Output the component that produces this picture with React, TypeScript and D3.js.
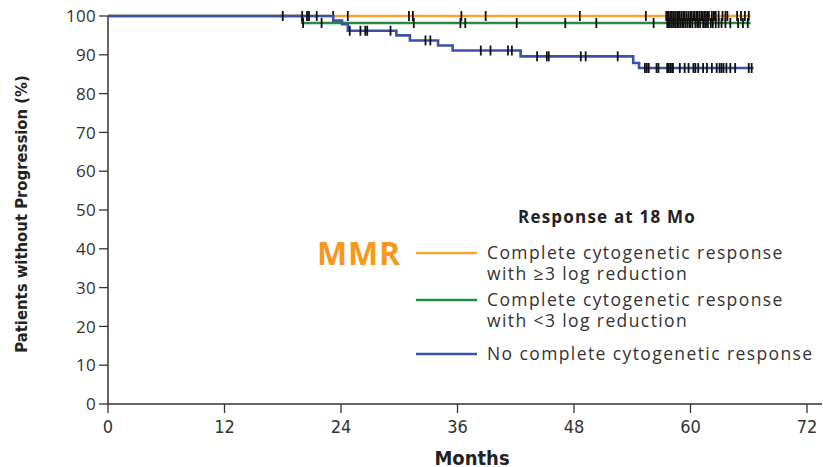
import React from "react";
import * as d3 from "d3";

// Kaplan–Meier step points: [month, % without progression]
const orangeSteps: [number, number][] = [[0, 100], [66.2, 100]];
const greenSteps: [number, number][] = [[0, 100], [20.0, 98.2], [66.2, 98.2]];
const blueSteps: [number, number][] = [
  [0, 100], [23.2, 98.8], [24.1, 97.9], [24.7, 96.2], [29.7, 95.0], [31.1, 93.7],
  [34.0, 92.4], [35.5, 91.1], [42.5, 89.6], [54.1, 87.9], [54.7, 86.6], [66.5, 86.6],
];

// Censoring times (months)
const orangeCensor = [
  23.2, 24.7, 31.0, 31.4, 36.4, 38.9, 48.6, 55.4,
  57.5, 57.6, 57.7, 57.9, 58.0, 58.2, 58.3, 58.5, 58.7, 58.8, 58.9, 59.1, 59.3, 59.4,
  59.6, 59.8, 60.0, 60.1, 60.3, 60.4, 60.6, 60.7, 60.9, 61.1, 61.2, 61.4, 61.5, 61.7,
  61.8, 61.9, 62.2, 62.4, 62.5, 62.6, 62.9, 63.3, 63.6, 63.8, 64.8, 65.2, 65.6, 66.0,
];
const greenCensor = [
  20.1, 22.0, 31.5, 36.3, 36.8, 42.1, 47.1, 50.3, 56.2,
  57.6, 57.7, 57.8, 58.0, 58.2, 58.3, 58.5, 58.7, 58.8, 59.0, 59.2, 59.3, 59.5, 59.7,
  59.9, 60.0, 60.2, 60.5, 60.7, 60.8, 61.0, 61.3, 61.5, 61.6, 61.8, 62.1, 62.3, 62.6,
  62.9, 63.2, 63.6, 64.1, 64.9, 65.4, 65.9,
];
const blueCensor = [
  18.0, 20.0, 20.5, 20.7, 21.5, 24.9, 26.0, 26.5, 26.7, 29.1, 32.7, 33.2,
  38.4, 39.4, 41.2, 41.6, 44.2, 45.2, 45.4, 48.7, 49.2, 52.5,
  55.3, 55.5, 55.7, 56.5, 56.7, 57.6, 57.7, 57.9, 58.1, 58.2, 58.9, 59.4, 59.8, 60.3,
  60.5, 60.8, 61.3, 61.7, 62.2, 62.7, 63.0, 63.2, 63.4, 63.7, 64.1, 64.6, 66.0, 66.3,
];

const xTicks = [0, 12, 24, 36, 48, 60, 72];
const yTicks = [0, 10, 20, 30, 40, 50, 60, 70, 80, 90, 100];

const legendItems = [
  { lines: ["Complete cytogenetic response", "with \u22653 log reduction"], color: "#F7A531" },
  { lines: ["Complete cytogenetic response", "with <3 log reduction"], color: "#2A8A45" },
  { lines: ["No complete cytogenetic response"], color: "#3B52AA" },
];

const W = 823;
const H = 467;
const x = d3.scaleLinear().domain([0, 72]).range([108, 807]);
const y = d3.scaleLinear().domain([0, 100]).range([404, 16]);

const stepLine = d3
  .line<[number, number]>()
  .x((d) => x(d[0]))
  .y((d) => y(d[1]))
  .curve(d3.curveStepAfter);

function valueAt(steps: [number, number][], t: number) {
  let v = steps[0][1];
  for (const [m, p] of steps) if (m <= t) v = p;
  return v;
}

const condensed = "'Liberation Sans Narrow', 'DejaVu Sans Condensed', 'Open Sans', sans-serif";
const sans = "'Open Sans', Lato, sans-serif";

function Series({ steps, censor, color }: { steps: [number, number][]; censor: number[]; color: string }) {
  return (
    <g>
      <path d={stepLine(steps) ?? ""} fill="none" stroke={color} strokeWidth={2.6} />
      {censor.map((t, i) => {
        const cy = y(valueAt(steps, t));
        return (
          <line key={i} x1={x(t)} x2={x(t)} y1={cy - 5} y2={cy + 5} stroke="#111" strokeWidth={1.8} />
        );
      })}
    </g>
  );
}

export default function App() {
  return (
    <svg width={W} height={H} style={{ position: "absolute", left: 0, top: 0, background: "#fff" }}>
      {/* axes */}
      <line x1={x(0)} x2={x(0)} y1={y(0)} y2={y(100)} stroke="#333" strokeWidth={1.5} />
      <line x1={x(0)} x2={822} y1={y(0)} y2={y(0)} stroke="#333" strokeWidth={1.5} />
      {yTicks.map((v) => (
        <g key={v}>
          <line x1={x(0) - 9} x2={x(0)} y1={y(v)} y2={y(v)} stroke="#333" strokeWidth={1.3} />
          <text x={x(0) - 12} y={y(v)} dy="0.36em" textAnchor="end" fontFamily={sans} fontSize={17} letterSpacing={0.3} fill="#333">
            {v}
          </text>
        </g>
      ))}
      {xTicks.map((v) => (
        <g key={v}>
          <line x1={x(v)} x2={x(v)} y1={y(0)} y2={y(0) + 9} stroke="#333" strokeWidth={1.3} />
          <text x={x(v)} y={y(0) + 29} textAnchor="middle" fontFamily={condensed} fontSize={18} fill="#333">
            {v}
          </text>
        </g>
      ))}
      <text
        transform={`translate(27,${(y(0) + y(100)) / 2 + 4}) rotate(-90)`}
        textAnchor="middle"
        fontFamily={condensed}
        fontWeight="bold"
        fontSize={16.5}
        fill="#222"
      >
        Patients without Progression (%)
      </text>
      <text x={472} y={465} textAnchor="middle" fontFamily={condensed} fontWeight="bold" fontSize={20} fill="#222">
        Months
      </text>

      {/* curves */}
      <Series steps={orangeSteps} censor={orangeCensor} color={legendItems[0].color} />
      <Series steps={greenSteps} censor={greenCensor} color={legendItems[1].color} />
      <Series steps={blueSteps} censor={blueCensor} color={legendItems[2].color} />

      {/* legend */}
      <text x={607} y={223} textAnchor="middle" fontFamily={sans} fontWeight="bold" fontSize={17} letterSpacing={1.2} fill="#222">
        Response at 18 Mo
      </text>
      <text x={317} y={265} fontFamily={sans} fontWeight="bold" fontSize={32} letterSpacing={0.8} fill="#F7981D">
        MMR
      </text>
      {legendItems.map((item, i) => {
        const ly = [253, 300, 354][i];
        return (
          <g key={i}>
            <line x1={416} x2={477} y1={ly} y2={ly} stroke={item.color} strokeWidth={2.6} />
            {item.lines.map((s, j) => (
              <text key={j} x={487} y={ly + 6 + j * 21} fontFamily={sans} fontSize={17.5} letterSpacing={1.4} fill="#333">
                {s}
              </text>
            ))}
          </g>
        );
      })}
    </svg>
  );
}
